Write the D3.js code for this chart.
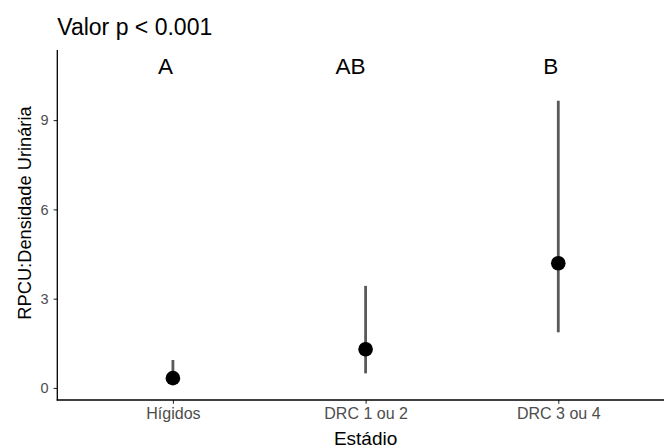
<!DOCTYPE html>
<html>
<head>
<meta charset="utf-8">
<script src="https://cdn.jsdelivr.net/npm/d3@7"></script>
<style>
  html, body { margin: 0; padding: 0; background: #fff; }
  svg { display: block; font-family: "Liberation Sans", Arial, sans-serif; }
</style>
</head>
<body>
<script>
// ---- Data ----
const categories = ["Hígidos", "DRC 1 ou 2", "DRC 3 ou 4"];
const centerValues = [0.33, 1.30, 4.19];
const lowerValues = [0.13, 0.49, 1.87];
const upperValues = [0.94, 3.43, 9.65];
const groupLetters = ["A", "AB", "B"];
const letterY = 10.82;
const yTicks = [0, 3, 6, 9];
const titleText = "Valor p < 0.001";
const xTitle = "Estádio";
const yTitle = "RPCU:Densidade Urinária";

// ---- Layout ----
const W = 664, H = 448;
const panel = { left: 57.3, top: 50, bottom: 400, right: 673.9 };

const svg = d3.select("body").append("svg")
  .attr("width", W).attr("height", H);

// y scale with ggplot-style 5% expansion from the data range
const dataMin = d3.min(lowerValues.concat([letterY]));
const dataMax = d3.max(upperValues.concat([letterY]));
const pad = 0.05 * (dataMax - dataMin);
const y = d3.scaleLinear()
  .domain([dataMin - pad, dataMax + pad])
  .range([panel.bottom, panel.top]);

const x = d3.scalePoint()
  .domain(categories)
  .range([panel.left, panel.right])
  .padding(0.6);

const data = categories.map((c, i) => ({
  cat: c, mid: centerValues[i], lo: lowerValues[i], hi: upperValues[i], letter: groupLetters[i]
}));

// ---- Error bars ----
svg.append("g").selectAll("line").data(data).join("line")
  .attr("x1", d => x(d.cat)).attr("x2", d => x(d.cat))
  .attr("y1", d => y(d.lo)).attr("y2", d => y(d.hi))
  .attr("stroke", "#595959").attr("stroke-width", 2.8);

// ---- Points ----
svg.append("g").selectAll("circle").data(data).join("circle")
  .attr("cx", d => x(d.cat)).attr("cy", d => y(d.mid))
  .attr("r", 7.3).attr("fill", "#000");

// ---- Letters (right-aligned at category position) ----
const letterSize = 22.5;
svg.append("g").selectAll("text").data(data).join("text")
  .attr("x", d => x(d.cat))
  .attr("y", d => y(letterY) + letterSize * 0.36)
  .attr("text-anchor", "end")
  .attr("font-size", letterSize)
  .attr("fill", "#000")
  .text(d => d.letter);

// ---- Axes ----
const yAxis = d3.axisLeft(y).tickValues(yTicks).tickSize(3.7).tickPadding(5);
const gy = svg.append("g").attr("transform", `translate(${panel.left},0)`).call(yAxis);
gy.select(".domain").remove();
gy.selectAll(".tick line").attr("stroke", "#333").attr("stroke-width", 1.1);
gy.selectAll(".tick text").attr("fill", "#4d4d4d").attr("font-size", 14.5)
  .attr("font-family", "Liberation Sans, Arial, sans-serif");

const xAxis = d3.axisBottom(x).tickSize(3.7).tickPadding(4);
const gx = svg.append("g").attr("transform", `translate(0,${panel.bottom})`).call(xAxis);
gx.select(".domain").remove();
gx.selectAll(".tick line").attr("stroke", "#333").attr("stroke-width", 1.1);
gx.selectAll(".tick text").attr("fill", "#4d4d4d").attr("font-size", 16)
  .attr("font-family", "Liberation Sans, Arial, sans-serif");

// axis lines
svg.append("line")
  .attr("x1", panel.left).attr("x2", panel.left)
  .attr("y1", panel.top).attr("y2", panel.bottom + 0.6)
  .attr("stroke", "#000").attr("stroke-width", 1.3);
svg.append("line")
  .attr("x1", panel.left - 0.6).attr("x2", panel.right)
  .attr("y1", panel.bottom).attr("y2", panel.bottom)
  .attr("stroke", "#000").attr("stroke-width", 1.3);

// ---- Titles ----
svg.append("text")
  .attr("x", panel.left).attr("y", 35)
  .attr("font-size", 23).attr("fill", "#000")
  .text(titleText);

svg.append("text")
  .attr("x", (panel.left + panel.right) / 2).attr("y", 445)
  .attr("text-anchor", "middle")
  .attr("font-size", 19).attr("fill", "#000")
  .text(xTitle);

svg.append("text")
  .attr("transform", `translate(${31},${213}) rotate(-90)`)
  .attr("text-anchor", "middle")
  .attr("font-size", 18.3).attr("fill", "#000")
  .text(yTitle);
</script>
</body>
</html>
